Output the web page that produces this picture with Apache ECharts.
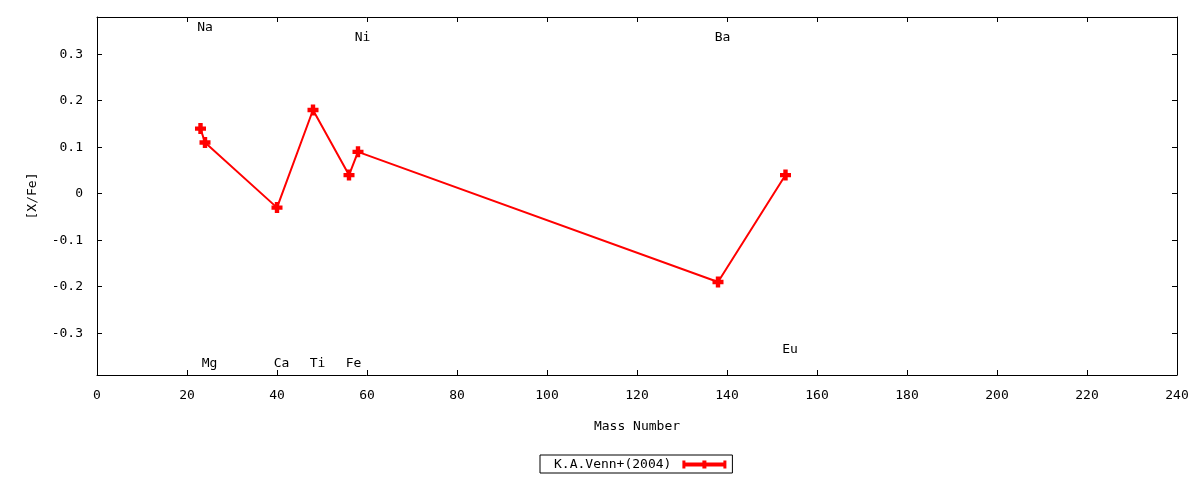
<!DOCTYPE html>
<html>
<head>
<meta charset="utf-8">
<script src="https://cdn.jsdelivr.net/npm/echarts@6/dist/echarts.min.js"></script>
<style>
  html, body { margin: 0; padding: 0; background: #fff; }
  #chart { width: 1200px; height: 480px; }
</style>
</head>
<body>
<div id="chart"></div>
<script>
// abundances, K.A.Venn+(2004)
const elements = ["Na", "Mg", "Ca", "Ti", "Fe", "Ni", "Ba", "Eu"]
const massNumber = [23, 24, 40, 48, 56, 58, 138, 153]
const xFe = [0.14, 0.11, -0.03, 0.18, 0.04, 0.09, -0.19, 0.04]
// where each element name sits (x is mass + 1)
const labelY = [0.358, -0.365, -0.365, -0.365, -0.365, 0.336, 0.336, -0.335]
const yTicks = [-0.3, -0.2, -0.1, 0, 0.1, 0.2, 0.3]
const seriesName = "K.A.Venn+(2004)"

const FONT = "DejaVu Sans Mono"
const plus = "path://M3,0h4v3h3v4h-3v3h-4v-3h-3v-4h3z"
const legendIcon = "path://M0,0h3v2h17v-2h4v2h17v-2h3v8h-3v-2h-17v2h-4v-2h-17v2h-3z"

const chart = echarts.init(document.getElementById("chart"))

const points = massNumber.map((m, i) => [m, xFe[i]])
const labels = elements.map((el, i) => [massNumber[i] + 1, labelY[i], el])

const tickStyle = { inside: true, length: 5, lineStyle: { color: "#000", width: 1 } }
const lineStyle = { show: true, onZero: false, lineStyle: { color: "#000", width: 1 } }

chart.setOption({
  animation: false,
  textStyle: { fontFamily: FONT, color: "#000" },
  grid: { left: 97, top: 17, right: 23, bottom: 105 },
  legend: {
    data: [{ name: seriesName, icon: legendIcon }],
    left: 540,
    top: 455,
    align: "right",
    itemWidth: 44,
    itemHeight: 8,
    borderColor: "#000",
    borderWidth: 1,
    borderRadius: 0,
    padding: [3, 6, 2, 14],
    textStyle: { fontFamily: FONT, fontSize: 13, color: "#000", padding: [0, 6, 0, 0] }
  },
  xAxis: [{
    type: "value",
    min: 0, max: 240, interval: 20,
    name: "Mass Number",
    nameLocation: "middle",
    nameGap: 45,
    nameTextStyle: { fontFamily: FONT, fontSize: 13, color: "#000" },
    axisLine: lineStyle,
    axisTick: tickStyle,
    axisLabel: { margin: 14, fontFamily: FONT, fontSize: 13, color: "#000" },
    splitLine: { show: false }
  }, {
    type: "value",
    position: "top",
    min: 0, max: 240, interval: 20,
    axisLine: lineStyle,
    axisTick: tickStyle,
    axisLabel: { show: false },
    splitLine: { show: false }
  }],
  yAxis: [{
    type: "value",
    min: -0.39, max: 0.38,
    name: "[X/Fe]",
    nameLocation: "middle",
    nameGap: 58,
    nameTextStyle: { fontFamily: FONT, fontSize: 13, color: "#000" },
    axisLine: lineStyle,
    axisTick: Object.assign({ customValues: yTicks }, tickStyle),
    axisLabel: {
      customValues: yTicks,
      margin: 14,
      fontFamily: FONT, fontSize: 13, color: "#000",
      formatter: v => String(Math.round(v * 10) / 10)
    },
    splitLine: { show: false }
  }, {
    type: "value",
    position: "right",
    min: -0.39, max: 0.38,
    axisLine: lineStyle,
    axisTick: Object.assign({ customValues: yTicks }, tickStyle),
    axisLabel: { show: false },
    splitLine: { show: false }
  }],
  series: [{
    name: seriesName,
    type: "line",
    data: points,
    color: "#ff0000",
    lineStyle: { color: "#ff0000", width: 2 },
    symbol: plus,
    symbolSize: 11,
    showAllSymbol: true,
    itemStyle: { color: "#ff0000" }
  }, {
    name: "labels",
    type: "scatter",
    data: labels,
    symbolSize: 1,
    itemStyle: { color: "rgba(0,0,0,0)" },
    silent: true,
    label: {
      show: true,
      position: "inside",
      formatter: p => p.data[2],
      fontFamily: FONT,
      fontSize: 13,
      color: "#000",
      opacity: 1,
      textBorderWidth: 0
    }
  }]
})
</script>
</body>
</html>
